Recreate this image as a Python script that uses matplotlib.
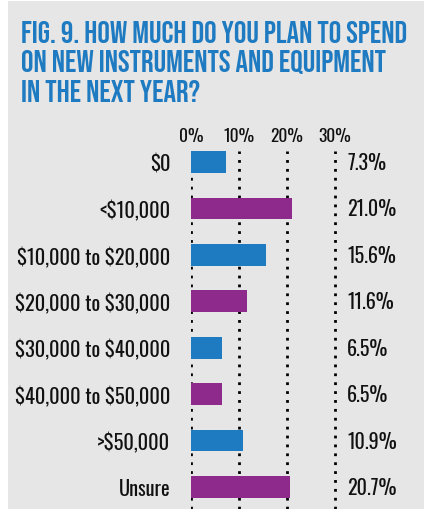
import matplotlib
matplotlib.use("Agg")
import matplotlib.pyplot as plt
from matplotlib.patches import Rectangle

categories = ["$0", "<$10,000", "$10,000 to $20,000", "$20,000 to $30,000",
              "$30,000 to $40,000", "$40,000 to $50,000", ">$50,000", "Unsure"]
values = [7.3, 21.0, 15.6, 11.6, 6.5, 6.5, 10.9, 20.7]
value_labels = ["7.3%", "21.0%", "15.6%", "11.6%", "6.5%", "6.5%", "10.9%", "20.7%"]
tick_values = [0, 10, 20, 30]
tick_labels = ["0%", "10%", "20%", "30%"]
title_lines = ["FIG. 9. HOW MUCH DO YOU PLAN TO SPEND",
               "ON NEW INSTRUMENTS AND EQUIPMENT",
               "IN THE NEXT YEAR?"]

BLUE = "#1f7bc1"
PURPLE = "#8e2a8b"
BG = "#e6e6e6"
TXT = "#111111"
colors = [BLUE if i % 2 == 0 else PURPLE for i in range(len(values))]

TITLE_FONT = "Bebas Neue"
LABEL_FONT = "Oswald"

W, H = 424, 510
fig = plt.figure(figsize=(W / 100, H / 100), dpi=100, facecolor="white")
fig.patches.append(Rectangle((8 / W, 0), 1 - 8 / W, 1 - 2 / H, transform=fig.transFigure,
                             facecolor=BG, edgecolor="none", zorder=-10))

# title
for i, line in enumerate(title_lines):
    fig.text(21 / W, 1 - (43 + 29.5 * i) / H, line, fontsize=22.5,
             family=TITLE_FONT, color=BLUE, ha="left", va="baseline")

left, top, bottom = 191, 152, 510
xmax = 33
pxper = 4.8
width = xmax * pxper
ax = fig.add_axes([left / W, 1 - bottom / H, width / W, (bottom - top) / H])
ax.set_facecolor("none")
for s in ax.spines.values():
    s.set_visible(False)

ypos = list(range(len(values)))
ax.barh(ypos, values, height=0.47, color=colors, zorder=3)
for t in tick_values:
    ax.axvline(t, color="black", linestyle=(0, (1, 2.2)), linewidth=2.0, zorder=2)
ax.set_xlim(0, xmax)
ax.set_ylim(7.474, -0.237)
ax.xaxis.tick_top()
ax.set_xticks(tick_values)
ax.set_xticklabels(tick_labels, family=LABEL_FONT, fontweight="light", fontsize=12.5, color=TXT)
ax.tick_params(axis="x", length=0, pad=5)
ax.set_yticks(ypos)
ax.set_yticklabels([c.replace("$", r"\$") for c in categories], family=LABEL_FONT,
                   fontweight="light", fontsize=14.7, color=TXT)
ax.tick_params(axis="y", length=0, pad=15)

for y, lab in zip(ypos, value_labels):
    ax.text(32.5, y, lab, family=LABEL_FONT, fontweight="light", fontsize=14.5, color=TXT,
            ha="left", va="center", clip_on=False)

fig.savefig("out.png", dpi=100, facecolor="white")
